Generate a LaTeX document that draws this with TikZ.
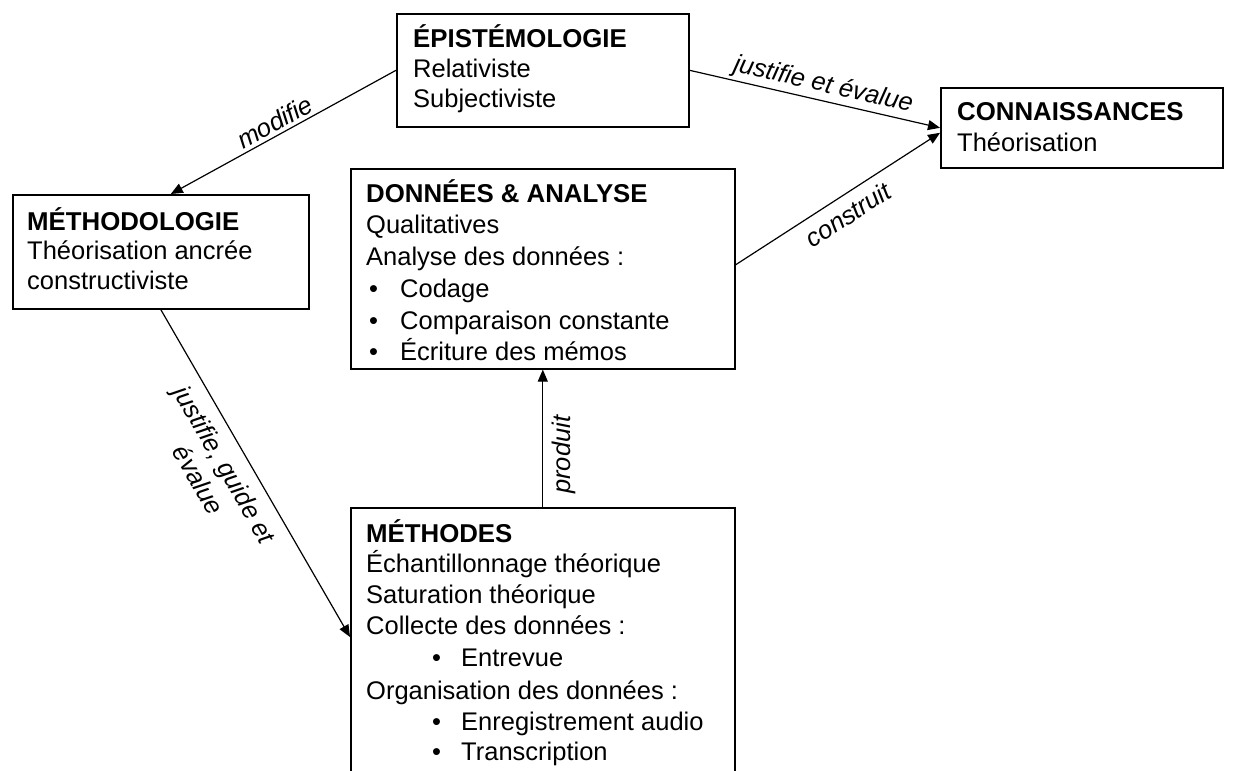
\documentclass[tikz,border=0pt]{standalone}
\usepackage{fontspec}
\setmainfont{Liberation Sans}
\usetikzlibrary{arrows.meta}
\begin{document}
\begin{tikzpicture}[x=1pt,y=-1pt,
  box/.style={draw=black, line width=1.6pt, rectangle, inner sep=0pt, anchor=north west},
  txt/.style={anchor=base west, inner sep=0pt, font=\fontsize{25.5}{30.5}\selectfont},
  hd/.style={txt, font=\fontsize{25.8}{30.5}\selectfont\bfseries},
  conn/.style={line width=1.2pt, -{Triangle[length=12pt,width=10pt]}},
  lab/.style={font=\fontsize{25.5}{30.5}\selectfont\itshape, inner sep=3pt}]
\useasboundingbox (0,0) rectangle (1243,771);
\clip (0,0) rectangle (1243,771);
% boxes
\node[box, minimum width=292pt, minimum height=113pt] (epi) at (396,13) {};
\node[box, minimum width=282pt, minimum height=80pt] (con) at (940,87) {};
\node[box, minimum width=296pt, minimum height=114pt] (meth) at (12,194) {};
\node[box, minimum width=384pt, minimum height=200pt] (don) at (350,168) {};
\node[box, minimum width=384pt, minimum height=300pt] (mes) at (350,507) {};
% texts
\node[hd] (epi1) at (413,47) {ÉPISTÉMOLOGIE};
\node[txt] (epi2) at (413,77.5) {Relativiste};
\node[txt] (epi3) at (413,107.5) {Subjectiviste};
\node[hd] (con1) at (957,120) {CONNAISSANCES};
\node[txt] (con2) at (957,151) {Théorisation};
\node[hd] (meth1) at (27,230) {MÉTHODOLOGIE};
\node[txt] (meth2) at (27,259.5) {Théorisation ancrée};
\node[txt] (meth3) at (27,289) {constructiviste};
\node[hd] (don1) at (366,202) {DONNÉES \& ANALYSE};
\node[txt] (don2) at (366,233.5) {Qualitatives};
\node[txt] (don3) at (366,265) {Analyse des données :};
\node[txt] (don4) at (366,297) {\hspace*{3pt}\makebox[31pt][l]{•}Codage};
\node[txt] (don5) at (366,329) {\hspace*{3pt}\makebox[31pt][l]{•}Comparaison constante};
\node[txt] (don6) at (366,360) {\hspace*{3pt}\makebox[31pt][l]{•}Écriture des mémos};
\node[hd] (mes1) at (366,542) {MÉTHODES};
\node[txt] (mes2) at (366,572.5) {Échantillonnage théorique};
\node[txt] (mes3) at (366,603.5) {Saturation théorique};
\node[txt] (mes4) at (366,634.5) {Collecte des données :};
\node[txt] (mes5) at (366,666) {\hspace*{66pt}\makebox[29pt][l]{•}Entrevue};
\node[txt] (mes6) at (366,699) {Organisation des données :};
\node[txt] (mes7) at (366,730) {\hspace*{66pt}\makebox[29pt][l]{•}Enregistrement audio};
\node[txt] (mes8) at (366,760) {\hspace*{66pt}\makebox[29pt][l]{•}Transcription};
% connectors
\draw[conn] (epi.west) -- node[lab, sloped, above, pos=0.51] (l1) {modifie} ([xshift=10pt]meth.north);
\draw[conn] (epi.east) -- node[lab, sloped, above, pos=0.52] (l2) {justifie et évalue} (con.west);
\draw[conn] ([yshift=4pt]don.east) -- node[lab, sloped, below=6pt, pos=0.5] (l3) {construit} ([yshift=-5pt]con.west);
\draw[conn] (mes.north) -- node[lab, sloped, below=6pt, pos=0.38] (l4) {produit} (don.south);
\draw[conn] (meth.south) -- node[lab, sloped, below=9pt, pos=0.44, align=center] (l5) {justifie, guide et\\évalue} ([yshift=-130pt]mes.north west);
\end{tikzpicture}
\end{document}
